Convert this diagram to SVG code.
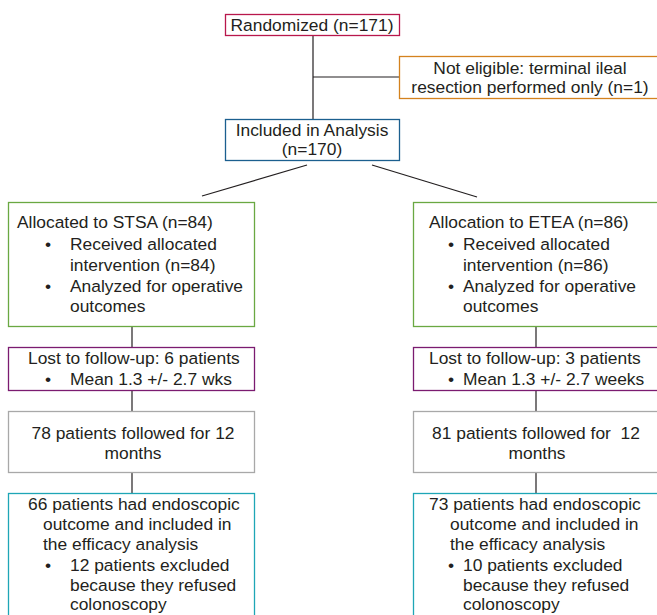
<svg xmlns="http://www.w3.org/2000/svg" width="657" height="615" viewBox="0 0 657 615">
<style>
text{font-family:"Liberation Sans",Arial,sans-serif;font-size:17.4px;fill:#231f20}
.c{text-anchor:middle}
.box{fill:#fff;stroke-width:1.3}
.ln{stroke:#231f20;stroke-width:1.2;fill:none}
</style>
<rect width="657" height="615" fill="#fff"/>
<g id="connectors">
<line class="ln" x1="313" y1="35" x2="313" y2="119"/>
<line class="ln" x1="313" y1="77" x2="399" y2="77"/>
<line class="ln" x1="307" y1="165" x2="202" y2="196"/>
<line class="ln" x1="372" y1="165" x2="477" y2="197"/>
<line class="ln" x1="132" y1="326" x2="132" y2="347"/>
<line class="ln" x1="132" y1="390" x2="132" y2="411"/>
<line class="ln" x1="132" y1="472" x2="132" y2="493"/>
<line class="ln" x1="536" y1="326" x2="536" y2="347"/>
<line class="ln" x1="536" y1="390" x2="536" y2="411"/>
<line class="ln" x1="536" y1="472" x2="536" y2="493"/>
</g>
<g id="randomized">
<rect class="box" x="225.5" y="14.5" width="174" height="21" stroke="#b8174c"/>
<text class="c" x="312" y="30.5">Randomized (n=171)</text>
</g>
<g id="not-eligible">
<rect class="box" x="399.5" y="56.5" width="270" height="42" stroke="#d4821e"/>
<text class="c" x="530" y="73.5">Not eligible: terminal ileal</text>
<text class="c" x="530" y="92.5">resection performed only (n=1)</text>
</g>
<g id="included">
<rect class="box" x="225.5" y="119.5" width="174" height="41" stroke="#1b5f8f"/>
<text class="c" x="312" y="136">Included in Analysis</text>
<text class="c" x="312" y="155">(n=170)</text>
</g>
<g id="stsa">
<rect class="box" x="8.5" y="202.5" width="246" height="124" stroke="#6aa842"/>
<text x="17" y="228">Allocated to STSA (n=84)</text>
<text x="45" y="250">•</text>
<text x="70" y="250">Received allocated</text>
<text x="70" y="271">intervention (n=84)</text>
<text x="45" y="292">•</text>
<text x="70" y="292">Analyzed for operative</text>
<text x="70" y="312">outcomes</text>
</g>
<g id="etea">
<rect class="box" x="413.5" y="202.5" width="260" height="124" stroke="#6aa842"/>
<text x="429" y="228">Allocation to ETEA (n=86)</text>
<text x="448" y="250">•</text>
<text x="463" y="250">Received allocated</text>
<text x="463" y="271">intervention (n=86)</text>
<text x="448" y="292">•</text>
<text x="463" y="292">Analyzed for operative</text>
<text x="463" y="312">outcomes</text>
</g>
<g id="lost-stsa">
<rect class="box" x="8.5" y="347.5" width="246" height="43" stroke="#7b1b70"/>
<text x="28" y="364">Lost to follow-up: 6 patients</text>
<text x="45" y="385">•</text>
<text x="70" y="385">Mean 1.3 +/- 2.7 wks</text>
</g>
<g id="lost-etea">
<rect class="box" x="413.5" y="347.5" width="260" height="43" stroke="#7b1b70"/>
<text x="429" y="364">Lost to follow-up: 3 patients</text>
<text x="448" y="385">•</text>
<text x="463" y="385">Mean 1.3 +/- 2.7 weeks</text>
</g>
<g id="followed-stsa">
<rect class="box" x="8.5" y="411.5" width="246" height="61" stroke="#a8a8a8"/>
<text class="c" x="133" y="439">78 patients followed for 12</text>
<text class="c" x="133" y="459">months</text>
</g>
<g id="followed-etea">
<rect class="box" x="413.5" y="411.5" width="260" height="61" stroke="#a8a8a8"/>
<text class="c" x="536" y="439" xml:space="preserve">81 patients followed for  12</text>
<text class="c" x="537" y="459">months</text>
</g>
<g id="endo-stsa">
<rect class="box" x="8.5" y="493.5" width="246" height="140" stroke="#1ea6b6"/>
<text x="28" y="510">66 patients had endoscopic</text>
<text x="43" y="530">outcome and included in</text>
<text x="43" y="550">the efficacy analysis</text>
<text x="45" y="571">•</text>
<text x="70" y="571">12 patients excluded</text>
<text x="70" y="591">because they refused</text>
<text x="70" y="610">colonoscopy</text>
</g>
<g id="endo-etea">
<rect class="box" x="413.5" y="493.5" width="260" height="140" stroke="#1ea6b6"/>
<text x="429" y="510">73 patients had endoscopic</text>
<text x="450" y="530">outcome and included in</text>
<text x="450" y="550">the efficacy analysis</text>
<text x="448" y="571">•</text>
<text x="463" y="571">10 patients excluded</text>
<text x="463" y="591">because they refused</text>
<text x="463" y="610">colonoscopy</text>
</g>
</svg>
